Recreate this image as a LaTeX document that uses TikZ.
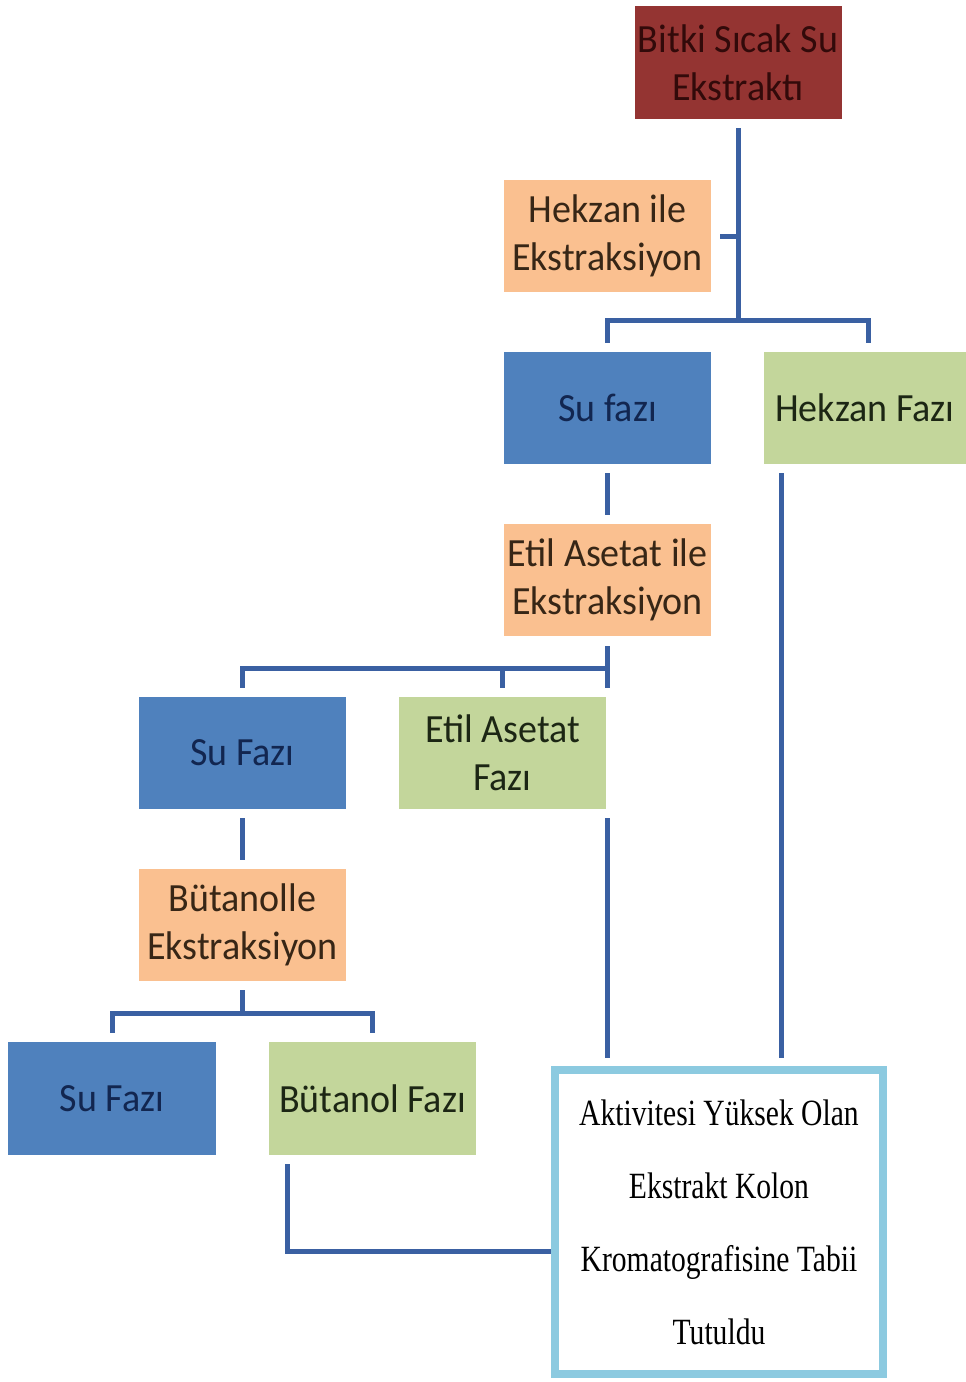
\documentclass[tikz,border=0pt]{standalone}
\usepackage{fontspec}
\newfontfamily\carlitofont[FakeStretch=0.95]{Carlito}
\newfontfamily\timesfont[FakeStretch=0.8]{Liberation Serif}
\usetikzlibrary{calc}
\definecolor{cred}{RGB}{148,52,50}
\definecolor{corange}{RGB}{250,192,144}
\definecolor{cblue}{RGB}{79,129,189}
\definecolor{cgreen}{RGB}{195,214,155}
\definecolor{cfin}{RGB}{140,202,224}
\definecolor{cline}{RGB}{58,96,162}
\definecolor{tred}{RGB}{50,10,10}
\definecolor{tblue}{RGB}{18,38,80}
\definecolor{tgreen}{RGB}{28,38,20}
\definecolor{torange}{RGB}{55,38,22}
\tikzset{
  box/.style={draw=none, minimum width=207pt, minimum height=112pt, inner sep=0pt,
    align=center, font=\carlitofont\fontsize{40}{48}\selectfont},
  redbox/.style={box, fill=cred, text=tred},
  orbox/.style={box, fill=corange, text=torange},
  bluebox/.style={box, fill=cblue, text=tblue},
  grbox/.style={box, fill=cgreen, text=tgreen},
  conn/.style={draw=cline, line width=5pt, line join=miter, line cap=butt},
}
\begin{document}
\begin{tikzpicture}[x=1pt, y=-1pt]
\useasboundingbox (0,0) rectangle (966,1382);
\fill[white] (0,0) rectangle (966,1382);

\node[redbox, minimum height=113pt] (top) at (738,62.5) {Bitki Sıcak Su\\Ekstraktı};
\node[orbox] (hekile) at (607.5,236) {Hekzan ile\\Ekstraksiyon};
\node[bluebox] (sufazi1) at (607.5,408) {Su fazı};
\node[grbox, minimum width=202pt] (hekfaz) at (865,408) {Hekzan Fazı};
\node[orbox] (etilile) at (607.5,580) {Etil Asetat ile\\Ekstraksiyon};
\node[bluebox] (sufazi2) at (242.5,753) {Su Fazı};
\node[grbox] (etilfaz) at (502.5,753) {Etil Asetat\\Fazı};
\node[orbox] (butile) at (242.5,925) {Bütanolle\\Ekstraksiyon};
\node[bluebox, minimum width=208pt, minimum height=113pt] (sufazi3) at (112,1098.5) {Su Fazı};
\node[grbox, minimum height=113pt] (butfaz) at (372.5,1098.5) {Bütanol Fazı};
\node[draw=cfin, line width=8pt, fill=white, minimum width=328pt, minimum height=304pt,
  inner sep=0pt, align=center, font=\timesfont\fontsize{37}{73}\selectfont, text=black]
  (final) at (719,1222) {Aktivitesi Yüksek Olan\\Ekstrakt Kolon\\Kromatografisine Tabii\\Tutuldu};

% level 1
\coordinate (j1) at (738,320);
\coordinate (j1r) at (868,320);
\draw[conn] ([yshift=-9pt]top.south) -- (j1);
\draw[conn] ([xshift=9pt]hekile.east) -- (hekile.east -| j1);
\draw[conn] ([yshift=9pt]sufazi1.north) -- (sufazi1.north |- j1) -- (j1r) -- ++(0,23);

% level 2
\draw[conn] ([yshift=-9pt]sufazi1.south) -- ([yshift=9pt]etilile.north);
\coordinate (j2) at (607.5,668);
\draw[conn] ([yshift=-10pt]etilile.south) -- ([yshift=9pt]etilile.north |- etilfaz.north);
\draw[conn] ([yshift=9pt]sufazi2.north) -- (sufazi2.north |- j2) -- (j2);
\draw[conn] ([yshift=9pt]etilfaz.north) -- (etilfaz.north |- j2);

% level 3
\draw[conn] ([yshift=-9pt]sufazi2.south) -- ([yshift=9pt]butile.north);
\coordinate (j3) at (242.5,1013);
\draw[conn] ([yshift=-9pt]butile.south) -- (j3);
\draw[conn] ([yshift=9pt]sufazi3.north) -- (sufazi3.north |- j3) -- (butfaz.north |- j3) -- ([yshift=9pt]butfaz.north);

% to final box
\coordinate (fintop) at ([yshift=8pt]final.north);
\coordinate (hx) at ([xshift=-84pt,yshift=-9pt]hekfaz.south);
\draw[conn] (hx) -- (hx |- fintop);
\coordinate (ex) at ([xshift=1pt,yshift=-9pt]etilfaz.south east);
\draw[conn] (ex) -- (ex |- fintop);
\draw[conn] ([xshift=19pt,yshift=-9pt]butfaz.south west) |- ([yshift=-29pt]final.west);
\end{tikzpicture}
\end{document}
